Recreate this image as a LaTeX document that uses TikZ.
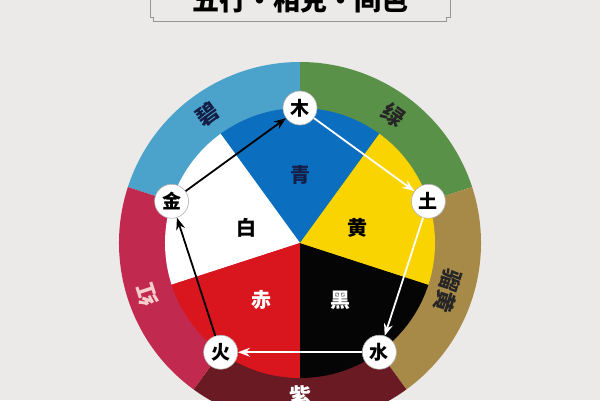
\documentclass[tikz,border=0pt]{standalone}
\usepackage{fontspec}
\setmainfont{Noto Sans CJK SC}
\usetikzlibrary{arrows.meta,calc}
\definecolor{bg}{RGB}{235,234,232}
\definecolor{bi}{RGB}{75,163,203}
\definecolor{lv}{RGB}{90,145,72}
\definecolor{liuh}{RGB}{168,138,72}
\definecolor{zi}{RGB}{106,26,34}
\definecolor{hong}{RGB}{193,42,78}
\definecolor{qing}{RGB}{11,110,191}
\definecolor{huang}{RGB}{250,212,0}
\definecolor{hei}{RGB}{5,5,5}
\definecolor{chi}{RGB}{217,22,30}
\definecolor{boxline}{RGB}{150,150,150}
\definecolor{navy}{RGB}{20,30,70}
\definecolor{pinkw}{RGB}{246,205,205}
\tikzset{
  elem/.style={circle,fill=white,draw=gray!60,line width=0.6pt,minimum size=34pt,inner sep=0pt,font=\fontsize{19}{19}\selectfont\bfseries},
  seclabel/.style={font=\fontsize{20}{20}\selectfont\bfseries,inner sep=0pt},
  ringlabel/.style={font=\fontsize{22}{22}\selectfont\bfseries,inner sep=0pt},
  flow/.style={line width=1.8pt,-{Stealth[length=12pt,width=9pt]}}
}
\begin{document}
\begin{tikzpicture}[x=1pt,y=1pt]
\useasboundingbox (0,0) rectangle (600,400);
\clip (0,0) rectangle (600,400);
\fill[bg] (0,0) rectangle (600,400);
% title box
\draw[boxline,line width=0.9pt,fill=bg] (150,410) -- (150,383) -- (153.5,383) -- (153.5,379) -- (446.5,379) -- (446.5,383) -- (450,383) -- (450,410);
\node[font=\fontsize{27}{27}\selectfont\bfseries,anchor=base,inner sep=0pt] (title) at (300,389) {五行・相克・间色};
% outer ring
\coordinate (C) at (300,157);
\fill[bi]   (C) -- ++(90:181)  arc[start angle=90,end angle=162,radius=181] -- cycle;
\fill[lv]   (C) -- ++(18:181)  arc[start angle=18,end angle=90,radius=181] -- cycle;
\fill[liuh] (C) -- ++(-54:181) arc[start angle=-54,end angle=18,radius=181] -- cycle;
\fill[zi]   (C) -- ++(-126:181) arc[start angle=-126,end angle=-54,radius=181] -- cycle;
\fill[hong] (C) -- ++(162:181) arc[start angle=162,end angle=234,radius=181] -- cycle;
% inner sectors
\fill[qing]  (C) -- ++(54:135)  arc[start angle=54,end angle=126,radius=135] -- cycle;
\fill[white] (C) -- ++(126:135) arc[start angle=126,end angle=198,radius=135] -- cycle;
\fill[chi]   (C) -- ++(198:135) arc[start angle=198,end angle=270,radius=135] -- cycle;
\fill[hei]   (C) -- ++(270:135) arc[start angle=270,end angle=342,radius=135] -- cycle;
\fill[huang] (C) -- ++(-18:135) arc[start angle=-18,end angle=54,radius=135] -- cycle;
% sector labels
\node[seclabel,text=navy] (lqing) at (300,225) {青};
\node[seclabel] (lbai) at (246,172) {白};
\node[seclabel] (lhuang) at (357,172) {黄};
\node[seclabel,text=white] (lchi) at (261,100) {赤};
\node[seclabel,text=white] (lhei) at (340,100) {黑};
% ring labels
\node[ringlabel,text=navy,rotate=36] (lbi) at (207,286) {碧};
\node[ringlabel,text=black!85,rotate=-36] (llv) at (393,285) {绿};
\node[ringlabel,text=pinkw,rotate=108] (lhong) at (147,105) {红};
\node[ringlabel,text=black!85,rotate=-108] (lliu) at (448,109) {骝黄};
\node[ringlabel,text=white] (lzi) at (300,4) {紫};
% element nodes
\node[elem] (mu)   at ($(C)+(90:135)$) {木};
\node[elem] (tu)   at ($(C)+(18:135)$) {土};
\node[elem] (shui) at ($(C)+(-54:135)$) {水};
\node[elem] (huo)  at ($(C)+(-126:135)$) {火};
\node[elem] (jin)  at ($(C)+(162:135)$) {金};
% arrows
\draw[flow,black] (jin) -- (mu);
\draw[flow,white] (mu) -- (tu);
\draw[flow,white] (tu) -- (shui);
\draw[flow,white,-{Stealth[length=12pt,width=9pt,fill=pinkw]}] (shui) -- (huo);
\draw[flow,black] (huo) -- (jin);
\end{tikzpicture}
\end{document}
